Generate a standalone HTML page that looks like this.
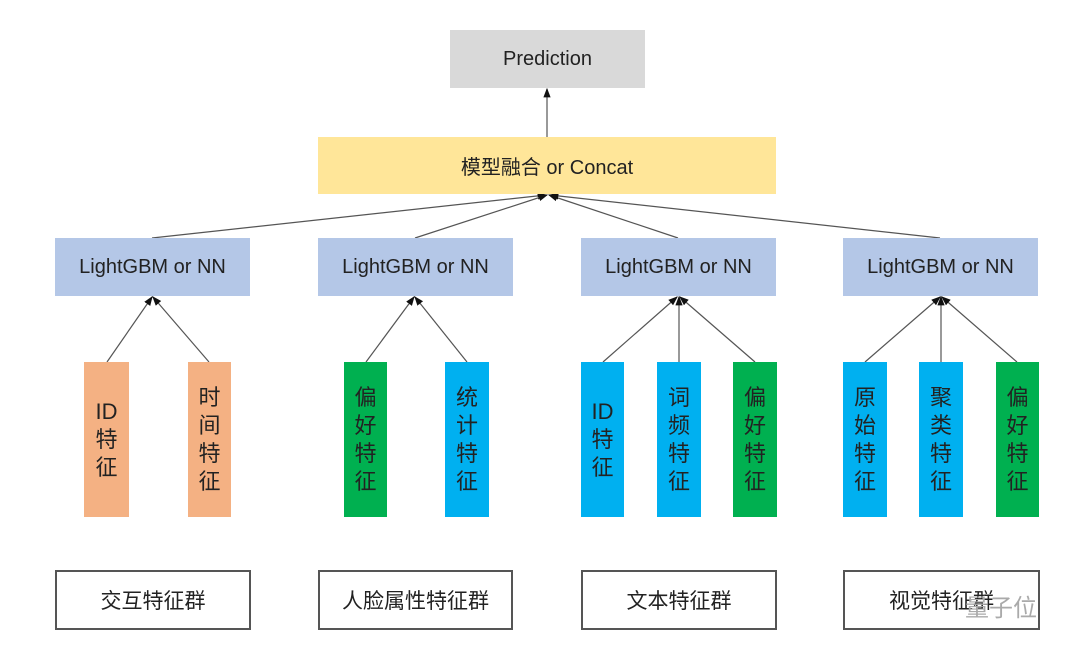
<!DOCTYPE html>
<html><head><meta charset="utf-8"><style>
body{margin:0;width:1080px;height:650px;background:#fff;position:relative;overflow:hidden;font-family:"Liberation Sans","Noto Sans CJK SC",sans-serif;color:#222}
.b{position:absolute;display:flex;align-items:center;justify-content:center;box-sizing:border-box}
.g{background:#d9d9d9;font-size:20px}
.y{background:#ffe699;font-size:20px}
.l{background:#b4c7e7;font-size:20px}
.f{flex-direction:column;font-size:22px;line-height:28px;text-align:center}
.o{background:#f4b183}.gr{background:#00b050}.bl{background:#00b0f0}
.w{border:2px solid #555;font-size:21px;background:#fff}
</style></head><body>
<svg width="1080" height="650" style="position:absolute;left:0;top:0">
<defs><marker id="a" markerWidth="8" markerHeight="8" refX="7" refY="4" orient="auto"><path d="M0,1 L8,4 L0,7z" fill="#111"/></marker></defs>
<g stroke="#555" stroke-width="1.2" fill="none" marker-end="url(#a)">
<line x1="547" y1="137" x2="547" y2="89"/>
<line x1="152" y1="238" x2="546" y2="195"/>
<line x1="415" y1="238" x2="547" y2="195"/>
<line x1="678" y1="238" x2="549" y2="195"/>
<line x1="940" y1="238" x2="550" y2="195"/>
<line x1="107" y1="362" x2="152" y2="297"/>
<line x1="209" y1="362" x2="153" y2="297"/>
<line x1="366" y1="362" x2="414" y2="297"/>
<line x1="467" y1="362" x2="415" y2="297"/>
<line x1="603" y1="362" x2="677" y2="297"/>
<line x1="679" y1="362" x2="679" y2="297"/>
<line x1="755" y1="362" x2="680" y2="297"/>
<line x1="865" y1="362" x2="940" y2="297"/>
<line x1="941" y1="362" x2="941" y2="297"/>
<line x1="1017" y1="362" x2="942" y2="297"/>
</g></svg>
<div class="b g" style="left:450px;top:30px;width:195px;height:58px">Prediction</div>
<div class="b y" style="left:318px;top:137px;width:458px;height:57px">模型融合 or Concat</div>
<div class="b l" style="left:55px;top:238px;width:195px;height:58px">LightGBM or NN</div>
<div class="b l" style="left:318px;top:238px;width:195px;height:58px">LightGBM or NN</div>
<div class="b l" style="left:581px;top:238px;width:195px;height:58px">LightGBM or NN</div>
<div class="b l" style="left:843px;top:238px;width:195px;height:58px">LightGBM or NN</div>
<div class="b f o" style="left:84px;top:362px;width:45px;height:155px">ID<br>特<br>征</div>
<div class="b f o" style="left:188px;top:362px;width:43px;height:155px">时<br>间<br>特<br>征</div>
<div class="b f gr" style="left:344px;top:362px;width:43px;height:155px">偏<br>好<br>特<br>征</div>
<div class="b f bl" style="left:445px;top:362px;width:44px;height:155px">统<br>计<br>特<br>征</div>
<div class="b f bl" style="left:581px;top:362px;width:43px;height:155px">ID<br>特<br>征</div>
<div class="b f bl" style="left:657px;top:362px;width:44px;height:155px">词<br>频<br>特<br>征</div>
<div class="b f gr" style="left:733px;top:362px;width:44px;height:155px">偏<br>好<br>特<br>征</div>
<div class="b f bl" style="left:843px;top:362px;width:44px;height:155px">原<br>始<br>特<br>征</div>
<div class="b f bl" style="left:919px;top:362px;width:44px;height:155px">聚<br>类<br>特<br>征</div>
<div class="b f gr" style="left:996px;top:362px;width:43px;height:155px">偏<br>好<br>特<br>征</div>
<div class="b w" style="left:55px;top:570px;width:196px;height:60px">交互特征群</div>
<div class="b w" style="left:318px;top:570px;width:195px;height:60px">人脸属性特征群</div>
<div class="b w" style="left:581px;top:570px;width:196px;height:60px">文本特征群</div>
<div class="b w" style="left:843px;top:570px;width:197px;height:60px">视觉特征群</div>
<div style="position:absolute;left:965px;top:588px;font-size:24px;color:#aaa">量子位</div>
</body></html>
